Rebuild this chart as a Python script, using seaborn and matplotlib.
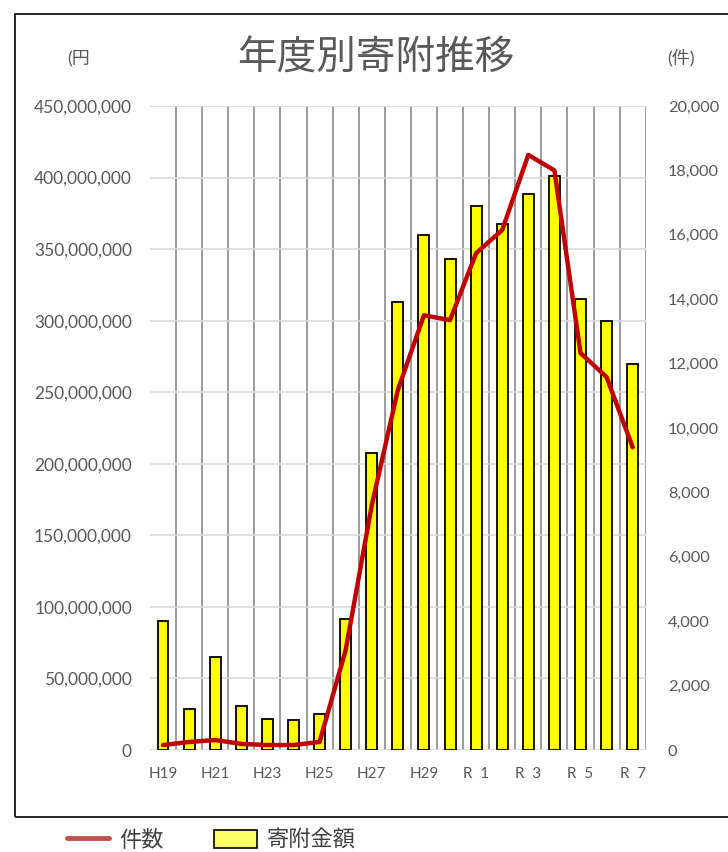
import numpy as np
import pandas as pd
import seaborn as sns
import matplotlib.pyplot as plt
from matplotlib.patches import Rectangle, Patch
from matplotlib.lines import Line2D
from matplotlib.ticker import FuncFormatter, MultipleLocator

years = ["H19", "H20", "H21", "H22", "H23", "H24", "H25", "H26", "H27", "H28",
         "H29", "H30", "R 1", "R 2", "R 3", "R 4", "R 5", "R 6", "R 7"]
amount = [90, 28.6, 65, 30.7, 21.7, 21, 25, 91.5, 207.5, 313,
          360, 343, 380, 367.5, 388.5, 401, 315, 300, 270]  # 百万円
counts = [155, 250, 310, 190, 155, 155, 250, 3100, 7600, 11180,
          13500, 13350, 15430, 16150, 18480, 18000, 12330, 11580, 9400]
shown_labels = ["H19", "H21", "H23", "H25", "H27", "H29", "R 1", "R 3", "R 5", "R 7"]

df = pd.DataFrame({"year": years, "amount": np.array(amount) * 1e6, "count": counts})
df["pos"] = range(len(df))

sns.set_style("white")
plt.rcParams['font.family'] = ['Lato', 'Noto Sans CJK JP', 'DejaVu Sans']
grey = "#595959"

fig = plt.figure(figsize=(7.28, 8.52), dpi=100)
ax = fig.add_axes([0.206, 0.1197, 0.681, 0.7559])

sns.barplot(data=df, x="year", y="amount", color="#FFFF00", saturation=1,
            width=0.42, edgecolor="black", linewidth=1.3, ax=ax)
ax.set_axisbelow(True)
ax.set_xlim(-0.5, len(years) - 0.5)
ax.set_ylim(0, 450e6)
ax.yaxis.set_major_locator(MultipleLocator(50e6))
ax.yaxis.set_major_formatter(FuncFormatter(lambda v, p: f"{int(v):,}"))
ax.grid(axis="y", color="#D9D9D9", linewidth=1.2)
for k in range(len(years)):
    ax.axvline(k + 0.5, color="#808080", linewidth=1.1, zorder=0.5)
ax.set_xticks([years.index(l) for l in shown_labels])
ax.set_xticklabels([l.replace(" ", "  ") for l in shown_labels])
ax.set_xlabel("")
ax.set_ylabel("")
ax.tick_params(axis="y", length=0, pad=13, labelsize=12.5, labelcolor=grey)
ax.tick_params(axis="x", length=0, pad=12, labelsize=11, labelcolor=grey)
for s in ax.spines.values():
    s.set_visible(False)

ax2 = ax.twinx()
sns.lineplot(data=df, x="pos", y="count", color="#C00000", linewidth=3.2, ax=ax2)
ax2.set_ylim(0, 20000)
ax2.yaxis.set_major_locator(MultipleLocator(2000))
ax2.yaxis.set_major_formatter(FuncFormatter(lambda v, p: f"{int(v):,}"))
ax2.set_ylabel("")
ax2.set_xlabel("")
ax2.tick_params(axis="y", length=0, pad=16, labelsize=11.8, labelcolor=grey)
for s in ax2.spines.values():
    s.set_visible(False)

fig.text(0.516, 0.932, "年度別寄附推移", ha="center", va="center", fontsize=28.5, color=grey)
fig.text(0.093, 0.932, "(円", ha="left", va="center", fontsize=13, color=grey)
fig.text(0.916, 0.932, "(件)", ha="left", va="center", fontsize=13, color=grey)

fig.patches.append(Rectangle((0.021, 0.041), 0.985, 0.943, transform=fig.transFigure,
                             fill=False, edgecolor="black", linewidth=1.2))

handles = [Line2D([0], [0], color="#C0504D", linewidth=3.5),
           Patch(facecolor="#FFFF66", edgecolor="black", linewidth=1.2)]
fig.legend(handles, ["件数", "寄附金額"], loc="center", bbox_to_anchor=(0.29, 0.014),
           ncol=2, frameon=False, fontsize=16, handlelength=1.9, handleheight=0.9,
           handletextpad=0.45, columnspacing=2.3, labelcolor="#404040")

fig.savefig("out.png", dpi=100)
